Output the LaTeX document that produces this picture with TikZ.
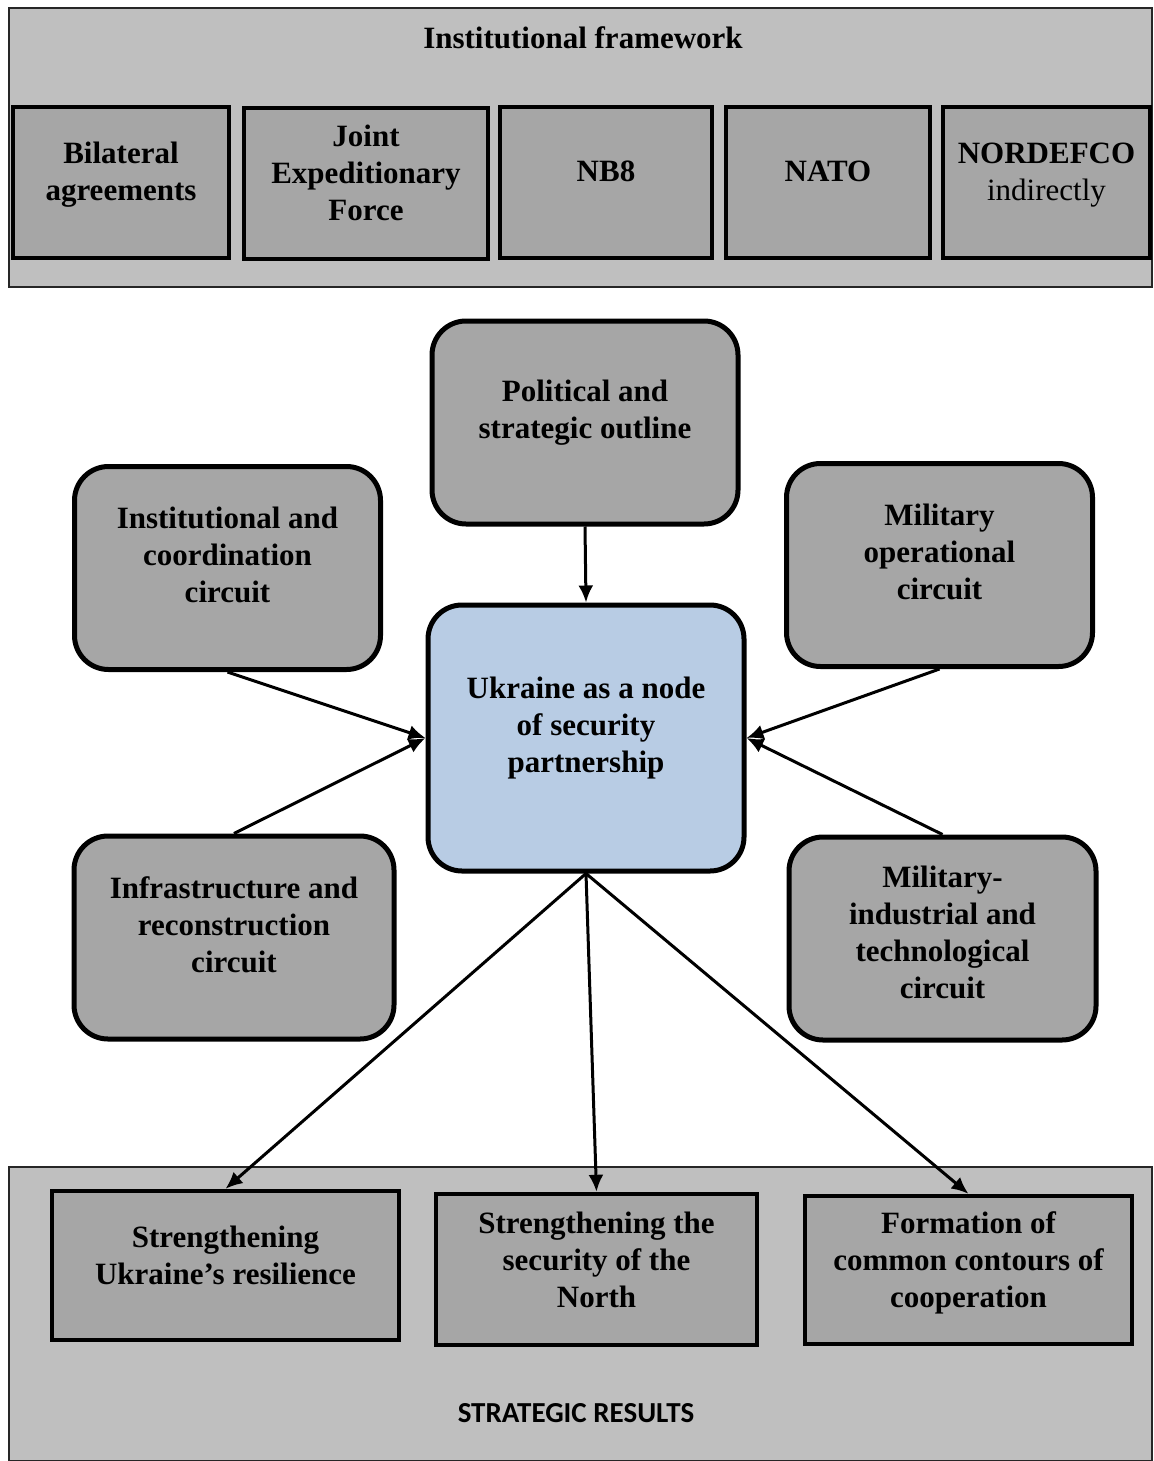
\documentclass[tikz,border=0pt]{standalone}
\usepackage{fontspec}
\setmainfont{Liberation Serif}
\newfontfamily\resfont{Carlito}
\usetikzlibrary{arrows.meta}
\definecolor{framegray}{HTML}{BFBFBF}
\definecolor{boxgray}{HTML}{A6A6A6}
\definecolor{nodeblue}{HTML}{B8CCE4}
\begin{document}
\begin{tikzpicture}[x=0.5pt,y=-0.5pt,
  frame/.style={draw=black!85, line width=1pt, fill=framegray},
  instbox/.style={draw, line width=2.2pt, fill=boxgray, align=center,
    font=\fontsize{15.5}{18.5}\selectfont\bfseries, minimum height=75.5pt, text depth=11pt},
  circuit/.style={draw, line width=2.5pt, rounded corners=17pt, fill=boxgray,
    align=center, font=\fontsize{15.5}{18.5}\selectfont\bfseries,
    minimum width=153pt, minimum height=101.5pt, text depth=13pt},
  resbox/.style={draw, line width=2.2pt, fill=boxgray, align=center,
    font=\fontsize{15.5}{18.5}\selectfont\bfseries, minimum height=75pt, text depth=10pt},
  arr/.style={line width=1.5pt, -{Latex[length=8.5pt,width=7.5pt]}}]
\useasboundingbox (0,0) rectangle (1153,1461);

% institutional framework
\draw[frame] (9,8) rectangle (1152,287);
\node[font=\fontsize{15.5}{18.5}\selectfont\bfseries] (fwtitle) at (583,38) {Institutional framework};
\node[instbox, minimum width=108pt] (bilat) at (121,182.5) {Bilateral\\agreements};
\node[instbox, minimum width=122pt] (jef) at (366,183.5) {Joint\\Expeditionary\\Force};
\node[instbox, minimum width=106pt] (nbeight) at (606,182.5) {NB8};
\node[instbox, minimum width=102pt] (nato) at (828,182.5) {NATO};
\node[instbox, minimum width=103.5pt] (nordefco) at (1046.5,182.5) {NORDEFCO\\\mdseries indirectly};

% circuits
\node[circuit] (polit) at (585,422.5) {Political and\\strategic outline};
\node[circuit] (instc) at (227.5,568) {Institutional and\\coordination\\circuit};
\node[circuit] (milop) at (939.5,565) {Military\\operational\\circuit};
\node[circuit, fill=nodeblue, minimum width=158pt, minimum height=133pt] (ukr) at (586,738)
  {Ukraine as a node\\of security\\partnership};
\node[circuit, minimum width=160pt] (infra) at (234,937.5) {Infrastructure and\\reconstruction\\circuit};
\node[circuit, minimum width=153.5pt, text depth=6pt] (milind) at (942.5,938.5) {Military-\\industrial and\\technological\\circuit};

\draw[arr] (polit.south) -- (ukr.north);
\draw[arr] (instc.south) -- (ukr.west);
\draw[arr] (infra.north) -- (ukr.west);
\draw[arr] (milop.south) -- (ukr.east);
\draw[arr] (milind.north) -- (ukr.east);

% strategic results
\draw[frame] (9,1167) rectangle (1152,1461);
\node[resbox, minimum width=173.5pt, minimum height=74.5pt] (resone) at (225.5,1265.5) {Strengthening\\Ukraine’s resilience};
\node[resbox, minimum width=160.5pt, minimum height=75.5pt] (restwo) at (596.5,1269.5) {Strengthening the\\security of the\\North};
\node[resbox, minimum width=163.5pt, minimum height=74pt] (resthree) at (968.5,1270) {Formation of\\common contours of\\cooperation};
\node[font=\resfont\fontsize{14.5}{17}\selectfont\bfseries] (restitle) at (576,1413) {STRATEGIC RESULTS};

\draw[arr] (ukr.south) -- (resone.north);
\draw[arr] (ukr.south) -- (restwo.north);
\draw[arr] (ukr.south) -- (resthree.north);
\end{tikzpicture}
\end{document}
